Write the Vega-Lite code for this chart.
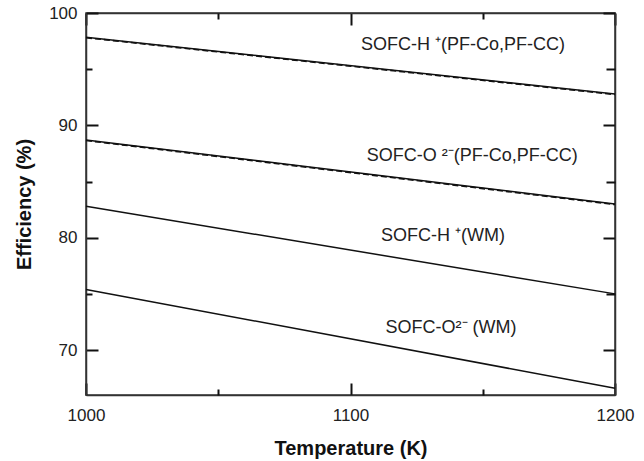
{
  "$schema": "https://vega.github.io/schema/vega-lite/v6.json",
  "autosize": {"type": "none"},
  "padding": {"left": 86, "top": 13, "right": 29, "bottom": 66},
  "width": 529,
  "height": 382,
  "background": "white",
  "config": {
    "view": {"stroke": "#333", "strokeWidth": 1.5},
    "font": "Liberation Sans",
    "axis": {
      "domainColor": "#333",
      "domainWidth": 1.5,
      "tickColor": "#111",
      "tickWidth": 2,
      "grid": false,
      "zindex": 1,
      "labelFont": "Liberation Sans",
      "labelFontSize": 17,
      "labelColor": "#222",
      "titleFont": "Liberation Sans",
      "titleFontSize": 20,
      "titleFontWeight": "bold",
      "titleColor": "#111"
    }
  },
  "datasets": {
    "lines": [
      {"series": "SOFC-H+ (PF-Co,PF-CC)", "group": "PF", "T": 1000, "eff": 97.85},
      {"series": "SOFC-H+ (PF-Co,PF-CC)", "group": "PF", "T": 1200, "eff": 92.8},
      {"series": "SOFC-O2- (PF-Co,PF-CC)", "group": "PF", "T": 1000, "eff": 88.7},
      {"series": "SOFC-O2- (PF-Co,PF-CC)", "group": "PF", "T": 1200, "eff": 83.0},
      {"series": "SOFC-H+ (WM)", "group": "WM", "T": 1000, "eff": 82.8},
      {"series": "SOFC-H+ (WM)", "group": "WM", "T": 1200, "eff": 75.0},
      {"series": "SOFC-O2- (WM)", "group": "WM", "T": 1000, "eff": 75.4},
      {"series": "SOFC-O2- (WM)", "group": "WM", "T": 1200, "eff": 66.6}
    ],
    "dashed": [
      {"series": "SOFC-H+ (PF-CC)", "T": 1000, "eff": 97.8},
      {"series": "SOFC-H+ (PF-CC)", "T": 1200, "eff": 92.74},
      {"series": "SOFC-O2- (PF-CC)", "T": 1000, "eff": 88.65},
      {"series": "SOFC-O2- (PF-CC)", "T": 1200, "eff": 82.95}
    ],
    "labels": [
      {"text": "SOFC-H ⁺(PF-Co,PF-CC)", "T": 1142.5, "eff": 97.15},
      {"text": "SOFC-O ²⁻(PF-Co,PF-CC)", "T": 1146, "eff": 87.3},
      {"text": "SOFC-H ⁺(WM)", "T": 1135, "eff": 80.15},
      {"text": "SOFC-O²⁻ (WM)", "T": 1138, "eff": 71.96}
    ]
  },
  "layer": [
    {
      "data": {"name": "lines"},
      "transform": [{"filter": "datum.group === 'PF'"}],
      "mark": {"type": "line", "color": "#111", "strokeWidth": 1.5},
      "encoding": {
        "x": {
          "field": "T", "type": "quantitative",
          "scale": {"domain": [1000, 1200], "nice": false},
          "axis": {
            "orient": "bottom",
            "title": "Temperature (K)",
            "values": [1000, 1100, 1200],
            "format": "d",
            "labelFlush": false,
            "labelBound": false,
            "tickSize": -12,
            "labelPadding": 24,
            "titlePadding": 15
          }
        },
        "y": {
          "field": "eff", "type": "quantitative",
          "scale": {"domain": [66, 100], "nice": false, "zero": false},
          "axis": {
            "orient": "left",
            "title": "Efficiency (%)",
            "values": [70, 80, 90, 100],
            "labelFlush": false,
            "labelBound": false,
            "tickSize": -12,
            "labelPadding": 21,
            "titlePadding": 14
          }
        },
        "detail": {"field": "series"}
      }
    },
    {
      "data": {"name": "lines"},
      "transform": [{"filter": "datum.group === 'WM'"}],
      "mark": {"type": "line", "color": "#111", "strokeWidth": 1.5},
      "encoding": {
        "x": {
          "field": "T", "type": "quantitative",
          "axis": {
            "orient": "bottom", "title": null, "labels": false, "domain": false,
            "values": [1050, 1150], "tickSize": -6
          }
        },
        "y": {
          "field": "eff", "type": "quantitative",
          "axis": {
            "orient": "left", "title": null, "labels": false, "domain": false,
            "values": [75, 85, 95], "tickSize": -6
          }
        },
        "detail": {"field": "series"}
      }
    },
    {
      "data": {"name": "dashed"},
      "mark": {"type": "line", "color": "#111", "strokeWidth": 1.6, "strokeDash": [6, 3]},
      "encoding": {
        "x": {
          "field": "T", "type": "quantitative",
          "axis": {
            "orient": "top", "title": null, "labels": false,
            "values": [1000, 1100, 1200], "tickSize": -12
          }
        },
        "y": {
          "field": "eff", "type": "quantitative",
          "axis": {
            "orient": "right", "title": null, "labels": false,
            "values": [70, 80, 90, 100], "tickSize": -12
          }
        },
        "detail": {"field": "series"}
      }
    },
    {
      "data": {"name": "labels"},
      "mark": {"type": "text", "fontSize": 18, "color": "#222", "align": "center", "baseline": "middle", "font": "Liberation Sans"},
      "encoding": {
        "x": {
          "field": "T", "type": "quantitative",
          "axis": {
            "orient": "top", "title": null, "labels": false, "domain": false,
            "values": [1050, 1150], "tickSize": -6
          }
        },
        "y": {
          "field": "eff", "type": "quantitative",
          "axis": {
            "orient": "right", "title": null, "labels": false, "domain": false,
            "values": [75, 85, 95], "tickSize": -9
          }
        },
        "text": {"field": "text"}
      }
    }
  ],
  "resolve": {"axis": {"x": "independent", "y": "independent"}}
}
